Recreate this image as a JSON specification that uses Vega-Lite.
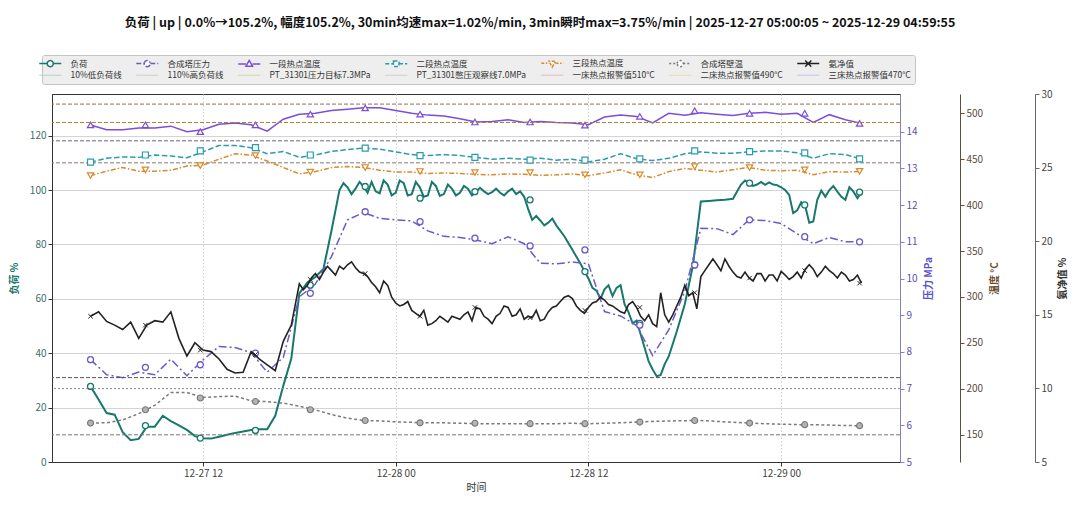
{
"$schema": "https://vega.github.io/schema/vega-lite/v6.json",
"autosize": {"type": "none"},
"padding": {"left": 52, "top": 94, "right": 180, "bottom": 47},
"width": 848,
"height": 368,
"background": "white",
"title": {"text": "负荷 | up | 0.0%→105.2%, 幅度105.2%, 30min均速max=1.02%/min, 3min瞬时max=3.75%/min | 2025-12-27 05:00:05 ~ 2025-12-29 04:59:55", "fontSize": 12.5, "fontWeight": "bold", "color": "#111", "anchor": "middle", "dx": 64, "offset": 25},
"config": {
  "font": "Noto Sans CJK SC",
  "view": {"stroke": "#333", "strokeWidth": 1},
  "axis": {"labelFontSize": 10, "titleFontSize": 10, "titleFontWeight": "bold", "tickSize": 4, "labelPadding": 2, "domainColor": "#333", "tickColor": "#333", "labelColor": "#333"},
  "axisX": {"grid": true, "gridDash": [1.5, 2], "gridColor": "#cfcfcf", "labelColor": "#444", "titleFontWeight": "normal", "titleColor": "#333", "titlePadding": 4},
  "axisY": {"grid": false},
  "line": {"invalid": "filter"}
},
"datasets": {
  "series": [
    {"t":"2025-12-27T05:00","load":27.8,"nh3":14.9,"p":7.79,"t1":487.3,"t2":446.8,"t3":432,"wall":162.7},
    {"t":"2025-12-27T05:30","load":23,"nh3":15.2},
    {"t":"2025-12-27T06:00","load":18,"nh3":14.55,"p":7.38,"t1":482,"t2":451,"t3":437,"wall":163},
    {"t":"2025-12-27T06:30","load":17.4,"nh3":14.3},
    {"t":"2025-12-27T07:00","load":11,"nh3":14.0,"p":7.3,"t1":482,"t2":452.5,"t3":441,"wall":166},
    {"t":"2025-12-27T07:30","load":8,"nh3":14.5},
    {"t":"2025-12-27T08:00","load":8.5,"nh3":13.4,"p":7.45,"t1":484,"t2":452,"t3":437,"wall":173},
    {"t":"2025-12-27T08:30","load":13,"nh3":14.3},
    {"t":"2025-12-27T09:00","load":13,"nh3":14.6,"p":7.38,"t1":484,"t2":454.5,"t3":437,"wall":182},
    {"t":"2025-12-27T09:30","load":17,"nh3":14.5},
    {"t":"2025-12-27T10:00","load":15,"nh3":15.2,"p":7.8,"t1":486,"t2":453.5,"t3":438,"wall":196},
    {"t":"2025-12-27T10:30","load":13.5,"nh3":13.4},
    {"t":"2025-12-27T11:00","load":11.8,"nh3":12.2,"p":7.35,"t1":480,"t2":451.5,"t3":442.5,"wall":196},
    {"t":"2025-12-27T11:30","load":9.5,"nh3":13.1},
    {"t":"2025-12-27T12:00","load":8.7,"nh3":12.6,"p":7.78,"t1":482,"t2":458,"t3":443.5,"wall":190.5},
    {"t":"2025-12-27T12:30","load":8.6,"nh3":12.5},
    {"t":"2025-12-27T13:00","load":9.3,"nh3":12.0,"p":8.15,"t1":488,"t2":465,"t3":450,"wall":191.5},
    {"t":"2025-12-27T13:30","load":10,"nh3":11.3},
    {"t":"2025-12-27T14:00","load":10.7,"nh3":11.05,"p":8.12,"t1":489.5,"t2":465,"t3":456,"wall":192},
    {"t":"2025-12-27T14:30","load":11.2,"nh3":11.1},
    {"t":"2025-12-27T15:00","load":11.8,"nh3":12.5,"p":7.98,"t1":487.5,"t2":462.5,"t3":454.5,"wall":187},
    {"t":"2025-12-27T15:30","load":12,"nh3":12.0},
    {"t":"2025-12-27T16:00","load":12,"nh3":11.6,"p":7.45,"t1":480.5,"t2":456,"t3":448,"wall":186},
    {"t":"2025-12-27T16:30","load":17,"nh3":11.2},
    {"t":"2025-12-27T17:00","load":28,"nh3":13.2,"p":7.85,"t1":493.5,"t2":458.5,"t3":441,"wall":184.5},
    {"t":"2025-12-27T17:30","load":38,"nh3":14.3},
    {"t":"2025-12-27T18:00","load":62,"nh3":17.1,"p":9.5,"t1":499,"t2":452,"t3":434,"wall":181},
    {"t":"2025-12-27T18:30","load":66,"nh3":17.0},
    {"t":"2025-12-27T19:00","load":68,"nh3":17.8,"p":9.85,"t1":500,"t2":454.5,"t3":436.5,"wall":177},
    {"t":"2025-12-27T19:30","load":71,"nh3":17.9},
    {"t":"2025-12-27T20:00","load":85,"nh3":18.0,"p":10.6,"t1":503,"t2":458.5,"t3":441,"wall":172},
    {"t":"2025-12-27T20:30","load":100,"nh3":18.3},
    {"t":"2025-12-27T21:00","load":101,"nh3":18.4,"p":11.6,"t1":504.5,"t2":460.5,"t3":442,"wall":168},
    {"t":"2025-12-27T21:30","load":100.5,"nh3":18.2},
    {"t":"2025-12-27T22:00","load":101.3,"nh3":17.8,"p":11.8,"t1":506,"t2":462,"t3":441,"wall":165.5},
    {"t":"2025-12-27T22:30","load":103,"nh3":17.2},
    {"t":"2025-12-27T23:00","load":98.8,"nh3":16.5,"p":11.64,"t1":506,"t2":461,"t3":438,"wall":165},
    {"t":"2025-12-27T23:30","load":102,"nh3":17.0},
    {"t":"2025-12-28T00:00","load":99,"nh3":15.8,"p":11.6,"t1":503,"t2":458,"t3":436,"wall":164},
    {"t":"2025-12-28T00:30","load":102.5,"nh3":15.7},
    {"t":"2025-12-28T01:00","load":98.5,"nh3":15.3,"p":11.57,"t1":500,"t2":455,"t3":436,"wall":163.5},
    {"t":"2025-12-28T01:30","load":101,"nh3":14.9},
    {"t":"2025-12-28T02:00","load":98,"nh3":14.3,"p":11.3,"t1":498,"t2":454,"t3":434.5,"wall":163},
    {"t":"2025-12-28T02:30","load":101.5,"nh3":14.6},
    {"t":"2025-12-28T03:00","load":98.5,"nh3":14.7,"p":11.15,"t1":497,"t2":455,"t3":435,"wall":163},
    {"t":"2025-12-28T03:30","load":100.5,"nh3":14.9},
    {"t":"2025-12-28T04:00","load":99,"nh3":14.7,"p":11.12,"t1":494,"t2":454,"t3":434.5,"wall":162.5},
    {"t":"2025-12-28T04:30","load":100.5,"nh3":15.2},
    {"t":"2025-12-28T05:00","load":99.4,"nh3":15.5,"p":11.05,"t1":490.5,"t2":452,"t3":433.5,"wall":162},
    {"t":"2025-12-28T05:30","load":99.5,"nh3":14.9},
    {"t":"2025-12-28T06:00","load":99.2,"nh3":14.4,"p":10.95,"t1":491,"t2":450,"t3":433,"wall":162},
    {"t":"2025-12-28T06:30","load":99,"nh3":15.1},
    {"t":"2025-12-28T07:00","load":99.5,"nh3":15.5,"p":11.14,"t1":493,"t2":451,"t3":434,"wall":162},
    {"t":"2025-12-28T07:30","load":98.5,"nh3":15.0},
    {"t":"2025-12-28T08:00","load":97.5,"nh3":14.7,"p":10.95,"t1":490,"t2":450,"t3":433.5,"wall":162},
    {"t":"2025-12-28T08:30","load":89,"nh3":14.8},
    {"t":"2025-12-28T09:00","load":88.8,"nh3":14.6,"p":10.42,"t1":491,"t2":451,"t3":432.5,"wall":162},
    {"t":"2025-12-28T09:30","load":88,"nh3":15.2},
    {"t":"2025-12-28T10:00","load":87,"nh3":15.6,"p":10.4,"t1":490,"t2":449,"t3":433,"wall":162},
    {"t":"2025-12-28T10:30","load":83,"nh3":16.2},
    {"t":"2025-12-28T11:00","load":78,"nh3":16.1,"p":10.45,"t1":489.5,"t2":450,"t3":434,"wall":162.5},
    {"t":"2025-12-28T11:30","load":73,"nh3":15.3},
    {"t":"2025-12-28T12:00","load":67.5,"nh3":15.5,"p":10.4,"t1":487.5,"t2":447,"t3":432,"wall":162},
    {"t":"2025-12-28T12:30","load":63,"nh3":15.9},
    {"t":"2025-12-28T13:00","load":63.5,"nh3":16.0,"p":9.1,"t1":496,"t2":450,"t3":435,"wall":162.5},
    {"t":"2025-12-28T13:30","load":61,"nh3":15.6},
    {"t":"2025-12-28T14:00","load":65,"nh3":15.2,"p":8.98,"t1":498,"t2":456,"t3":438.5,"wall":163},
    {"t":"2025-12-28T14:30","load":55,"nh3":15.7},
    {"t":"2025-12-28T15:00","load":52,"nh3":15.5,"p":8.72,"t1":496.5,"t2":450.5,"t3":433,"wall":163.8},
    {"t":"2025-12-28T15:30","load":42,"nh3":14.6},
    {"t":"2025-12-28T16:00","load":34,"nh3":14.4,"p":7.9,"t1":489.5,"t2":448.5,"t3":430,"wall":164.5},
    {"t":"2025-12-28T16:30","load":32,"nh3":16.5},
    {"t":"2025-12-28T17:00","load":38.8,"nh3":14.5,"p":8.6,"t1":500,"t2":451,"t3":436.5,"wall":165},
    {"t":"2025-12-28T17:30","load":48,"nh3":15.6},
    {"t":"2025-12-28T18:00","load":58,"nh3":17.0,"p":9.65,"t1":498,"t2":456,"t3":440,"wall":165.3},
    {"t":"2025-12-28T18:30","load":72,"nh3":16.5},
    {"t":"2025-12-28T19:00","load":95.8,"nh3":17.6,"p":11.37,"t1":500.5,"t2":458,"t3":438,"wall":165.5},
    {"t":"2025-12-28T19:30","load":96,"nh3":18.4},
    {"t":"2025-12-28T20:00","load":96.2,"nh3":18.4,"p":11.36,"t1":499,"t2":456.5,"t3":436,"wall":164.5},
    {"t":"2025-12-28T20:30","load":96.4,"nh3":18.8},
    {"t":"2025-12-28T21:00","load":96.8,"nh3":17.9,"p":11.2,"t1":497.5,"t2":456.5,"t3":438.5,"wall":163.5},
    {"t":"2025-12-28T21:30","load":102,"nh3":17.5},
    {"t":"2025-12-28T22:00","load":102.5,"nh3":17.5,"p":11.6,"t1":500,"t2":458,"t3":441,"wall":162.7},
    {"t":"2025-12-28T22:30","load":102,"nh3":17.8},
    {"t":"2025-12-28T23:00","load":101.9,"nh3":17.3,"p":11.58,"t1":501,"t2":459,"t3":438,"wall":162},
    {"t":"2025-12-28T23:30","load":102,"nh3":17.7},
    {"t":"2025-12-29T00:00","load":101,"nh3":17.95,"p":11.5,"t1":499,"t2":459,"t3":437.5,"wall":161.5},
    {"t":"2025-12-29T00:30","load":98.2,"nh3":17.4},
    {"t":"2025-12-29T01:00","load":92.5,"nh3":17.9,"p":11.22,"t1":500,"t2":457,"t3":438,"wall":161},
    {"t":"2025-12-29T01:30","load":94,"nh3":18.1},
    {"t":"2025-12-29T02:00","load":88.4,"nh3":18.1,"p":10.95,"t1":490,"t2":451,"t3":433,"wall":160.9},
    {"t":"2025-12-29T02:30","load":99.8,"nh3":17.9},
    {"t":"2025-12-29T03:00","load":100,"nh3":18.0,"p":11.12,"t1":498.5,"t2":456,"t3":436.5,"wall":160.5},
    {"t":"2025-12-29T03:30","load":99.4,"nh3":17.5},
    {"t":"2025-12-29T04:00","load":96.4,"nh3":17.7,"p":11.0,"t1":493,"t2":455,"t3":436,"wall":160},
    {"t":"2025-12-29T04:30","load":99.4,"nh3":17.4},
    {"t":"2025-12-29T05:00","load":99.1,"nh3":17.15,"p":11.0,"t1":489,"t2":450,"t3":436.8,"wall":159.8},
    {"t":"2025-12-27T18:15","nh3":16.7},
    {"t":"2025-12-27T18:45","nh3":17.5},
    {"t":"2025-12-27T19:15","nh3":17.4},
    {"t":"2025-12-27T19:45","nh3":18.3},
    {"t":"2025-12-27T20:15","nh3":17.7},
    {"t":"2025-12-27T20:45","nh3":18.1,"load":102.5},
    {"t":"2025-12-27T21:15","nh3":18.6,"load":98.5},
    {"t":"2025-12-27T21:45","nh3":17.9,"load":103},
    {"t":"2025-12-27T22:15","nh3":17.6,"load":99},
    {"t":"2025-12-27T22:45","nh3":16.9,"load":99.5},
    {"t":"2025-12-27T23:15","nh3":17.3,"load":103.5},
    {"t":"2025-12-27T23:45","nh3":16.2,"load":98},
    {"t":"2025-12-28T00:15","nh3":15.6,"load":103.5},
    {"t":"2025-12-28T00:45","nh3":15.9,"load":98},
    {"t":"2025-12-28T01:15","nh3":15.1,"load":103},
    {"t":"2025-12-28T01:45","nh3":15.3,"load":97.5},
    {"t":"2025-12-28T02:15","nh3":14.4,"load":103},
    {"t":"2025-12-28T02:45","nh3":14.9,"load":97.8},
    {"t":"2025-12-28T03:15","nh3":14.5,"load":102},
    {"t":"2025-12-28T03:45","nh3":14.8,"load":98},
    {"t":"2025-12-28T04:15","nh3":15.0,"load":101.5},
    {"t":"2025-12-28T04:45","nh3":14.6,"load":98},
    {"t":"2025-12-28T05:15","nh3":15.4,"load":100.8},
    {"t":"2025-12-28T05:45","nh3":14.7,"load":98.5},
    {"t":"2025-12-28T06:15","nh3":14.9,"load":100.5},
    {"t":"2025-12-28T06:45","nh3":15.6,"load":98},
    {"t":"2025-12-28T07:15","nh3":14.9,"load":100.5},
    {"t":"2025-12-28T07:45","nh3":15.4,"load":99.5},
    {"t":"2025-12-28T08:15","nh3":14.9,"load":93},
    {"t":"2025-12-28T08:45","nh3":15.3,"load":90.5},
    {"t":"2025-12-28T09:15","nh3":14.7,"load":87},
    {"t":"2025-12-28T09:45","nh3":15.5,"load":89.5},
    {"t":"2025-12-28T10:15","nh3":15.9},
    {"t":"2025-12-28T10:45","nh3":16.3},
    {"t":"2025-12-28T11:15","nh3":15.6},
    {"t":"2025-12-28T11:45","nh3":15.1},
    {"t":"2025-12-28T12:15","nh3":15.8,"load":64},
    {"t":"2025-12-28T12:45","nh3":16.2,"load":60},
    {"t":"2025-12-28T13:15","nh3":15.7,"load":65},
    {"t":"2025-12-28T13:45","nh3":15.4,"load":64},
    {"t":"2025-12-28T14:15","nh3":15.1,"load":58},
    {"t":"2025-12-28T14:45","nh3":15.9,"load":51},
    {"t":"2025-12-28T15:15","nh3":14.9,"load":47},
    {"t":"2025-12-28T15:45","nh3":15.0,"load":37},
    {"t":"2025-12-28T16:15","nh3":14.2,"load":31.5},
    {"t":"2025-12-28T16:45","nh3":15.0,"load":36},
    {"t":"2025-12-28T17:15","nh3":15.0},
    {"t":"2025-12-28T17:45","nh3":16.2},
    {"t":"2025-12-28T18:15","nh3":16.3},
    {"t":"2025-12-28T18:45","nh3":15.4},
    {"t":"2025-12-28T19:15","nh3":18.0},
    {"t":"2025-12-28T19:45","nh3":18.8},
    {"t":"2025-12-28T20:15","nh3":18.0},
    {"t":"2025-12-28T20:45","nh3":18.3},
    {"t":"2025-12-28T21:15","nh3":17.6},
    {"t":"2025-12-28T21:45","nh3":17.9,"load":103.5},
    {"t":"2025-12-28T22:15","nh3":17.3,"load":101.5},
    {"t":"2025-12-28T22:45","nh3":17.8,"load":103},
    {"t":"2025-12-28T23:15","nh3":17.7,"load":102.8},
    {"t":"2025-12-28T23:45","nh3":17.3,"load":101.8},
    {"t":"2025-12-29T00:15","nh3":17.7,"load":100},
    {"t":"2025-12-29T00:45","nh3":17.6,"load":91.5},
    {"t":"2025-12-29T01:15","nh3":17.5,"load":95.5},
    {"t":"2025-12-29T01:45","nh3":18.4,"load":88},
    {"t":"2025-12-29T02:15","nh3":17.6,"load":96.4},
    {"t":"2025-12-29T02:45","nh3":18.3,"load":97.5},
    {"t":"2025-12-29T03:15","nh3":17.8,"load":101.5},
    {"t":"2025-12-29T03:45","nh3":17.9,"load":97.5},
    {"t":"2025-12-29T04:15","nh3":17.3,"load":101},
    {"t":"2025-12-29T04:45","nh3":17.7,"load":97}
  ],
  "marks": [
    {"t":"2025-12-27T05:00","load":27.8,"p":7.79,"t1":487.3,"t2":446.8,"t3":432.2,"wall":162.7,"nh3":14.9},
    {"t":"2025-12-27T08:25","load":13.4,"p":7.58,"t1":487.3,"t2":454.6,"t3":438.4,"wall":177.2,"nh3":14.3},
    {"t":"2025-12-27T11:50","load":8.8,"p":7.65,"t1":480,"t2":459,"t3":443,"wall":190,"nh3":12.6},
    {"t":"2025-12-27T15:16","load":11.6,"p":7.97,"t1":487.3,"t2":462.6,"t3":454,"wall":186.2,"nh3":12.3},
    {"t":"2025-12-27T18:41","load":65,"p":9.6,"t1":499,"t2":454.6,"t3":436,"wall":177.2,"nh3":17.4},
    {"t":"2025-12-27T22:06","load":101.3,"p":11.82,"t1":505.8,"t2":462,"t3":441,"wall":165.5,"nh3":17.8},
    {"t":"2025-12-28T01:31","load":97,"p":11.55,"t1":499,"t2":454,"t3":436.6,"wall":163,"nh3":14.9},
    {"t":"2025-12-28T04:56","load":99.4,"p":11.1,"t1":490.5,"t2":452,"t3":435.5,"wall":162.5,"nh3":15.5},
    {"t":"2025-12-28T08:22","load":96.4,"p":10.89,"t1":490.5,"t2":449,"t3":435.5,"wall":162,"nh3":14.8},
    {"t":"2025-12-28T11:47","load":70,"p":10.78,"t1":487,"t2":449,"t3":433,"wall":162,"nh3":15.3},
    {"t":"2025-12-28T15:12","load":51,"p":8.73,"t1":496.7,"t2":450.3,"t3":433,"wall":163.8,"nh3":15.5},
    {"t":"2025-12-28T18:37","load":72.5,"p":10.37,"t1":502.8,"t2":459,"t3":442,"wall":165.5,"nh3":16.5},
    {"t":"2025-12-28T22:02","load":102.5,"p":11.6,"t1":500,"t2":458.3,"t3":440.9,"wall":162.7,"nh3":17.5},
    {"t":"2025-12-29T01:28","load":94.5,"p":11.14,"t1":500,"t2":457,"t3":438.4,"wall":160.9,"nh3":18.0},
    {"t":"2025-12-29T04:53","load":99.2,"p":11.0,"t1":489,"t2":450.3,"t3":436.8,"wall":159.8,"nh3":17.15}
  ]
},
"layer": [
  {"layer": [
    {"data": {"name": "series"}, "transform": [{"filter": "isValid(datum.load)"}],
     "mark": {"type": "line", "strokeWidth": 2},
     "encoding": {
       "x": {"field": "t", "type": "temporal", "title": "时间", "scale": {"domain": [{"year": 2025, "month": 12, "date": 27, "hours": 2, "minutes": 36}, {"year": 2025, "month": 12, "date": 29, "hours": 7, "minutes": 24}]}, "axis": {"format": "%m-%d %H", "values": [{"year": 2025, "month": 12, "date": 27, "hours": 12}, {"year": 2025, "month": 12, "date": 28, "hours": 0}, {"year": 2025, "month": 12, "date": 28, "hours": 12}, {"year": 2025, "month": 12, "date": 29, "hours": 0}]}},
       "y": {"field": "load", "type": "quantitative", "title": "负荷 %", "scale": {"domain": [0, 135.3], "nice": false, "zero": false},
             "axis": {"values": [0, 20, 40, 60, 80, 100, 120], "grid": true, "gridColor": "#d4d4d4", "labelColor": "#3a6f67", "titleColor": "#17786c", "titleAngle": 270, "titleX": -38, "titleY": 184, "titleAlign": "center", "titleBaseline": "middle"}},
       "color": {"datum": "负荷", "type": "nominal",
         "scale": {"domain": ["负荷", "合成塔压力", "一段热点温度", "二段热点温度", "三段热点温度", "合成塔壁温", "氨净值", "10%低负荷线", "110%高负荷线", "PT_31301压力目标7.3MPa", "PT_31301憋压观察线7.0MPa", "一床热点报警值510°C", "二床热点报警值490°C", "三床热点报警值470°C"],
                   "range": ["#17786c", "#6a5acd", "#7c4ddb", "#2a9cb0", "#d98a2b", "#7a7a7a", "#222222", "#a8cfc8", "#c8c8c8", "#cdd3a0", "#c8c8c8", "#eab0c0", "#e8dc9c", "#c4bcec"]},
         "legend": {"title": null, "orient": "none", "legendX": -10, "legendY": -39, "columns": 7, "direction": "horizontal", "fillColor": "#eeeeee", "strokeColor": "#c4c4c4", "padding": 4, "cornerRadius": 2, "rowPadding": 1, "columnPadding": 11, "labelFontSize": 8.5, "labelColor": "#333", "labelOffset": 16, "labelLimit": 220, "symbolSize": 121, "symbolStrokeWidth": 1.5,
           "encode": {"symbols": {"update": {
             "shape": {"signal": "({'负荷':'M-2,0L-0.55,0M0.55,0L2,0M-0.55,0A0.55,0.55 0 1,1 0.55,0A0.55,0.55 0 1,1 -0.55,0Z','合成塔压力':'M-2,0L-0.55,0M0.55,0L2,0M-0.55,0A0.55,0.55 0 1,1 0.55,0A0.55,0.55 0 1,1 -0.55,0Z','一段热点温度':'M-2,0L-0.6,0M0.6,0L2,0M0,-0.65L0.6,0.4L-0.6,0.4Z','二段热点温度':'M-2,0L-0.5,0M0.5,0L2,0M-0.5,-0.5L0.5,-0.5L0.5,0.5L-0.5,0.5Z','三段热点温度':'M-2,0L-0.6,0M0.6,0L2,0M0,0.65L0.6,-0.4L-0.6,-0.4Z','合成塔壁温':'M-2,0L-0.55,0M0.55,0L2,0M-0.55,0A0.55,0.55 0 1,1 0.55,0A0.55,0.55 0 1,1 -0.55,0Z','氨净值':'M-2,0L2,0M-0.55,-0.55L0.55,0.55M-0.55,0.55L0.55,-0.55'})[datum.value] || 'M-2,0L2,0'"},
             "strokeDash": {"signal": "({'合成塔压力':[5,2,1.5,2],'二段热点温度':[4,2],'三段热点温度':[3,1.5,1.5,1.5],'合成塔壁温':[2,2]})[datum.value] || [1,0]"},
             "fill": {"value": "white"},
             "strokeWidth": {"signal": "indexof(['负荷','合成塔压力','一段热点温度','二段热点温度','三段热点温度','合成塔壁温','氨净值'], datum.value) >= 0 ? 1.5 : 1"}
           }}}}}
     }},
    {"data": {"name": "marks"},
     "mark": {"type": "point", "shape": "circle", "size": 36, "filled": true, "fill": "white", "stroke": "#17786c", "strokeWidth": 1.3, "opacity": 1},
     "encoding": {
       "x": {"field": "t", "type": "temporal", "title": "时间", "scale": {"domain": [{"year": 2025, "month": 12, "date": 27, "hours": 2, "minutes": 36}, {"year": 2025, "month": 12, "date": 29, "hours": 7, "minutes": 24}]}},
       "y": {"field": "load", "type": "quantitative", "title": "负荷 %"}}},
    {"data": {"values": [{}]}, "mark": {"type": "rule", "stroke": "#777777", "strokeDash": [4, 2], "strokeWidth": 1}, "encoding": {"y": {"datum": 10}}},
    {"data": {"values": [{}]}, "mark": {"type": "rule", "stroke": "#8a7a70", "strokeDash": [4, 2], "strokeWidth": 1}, "encoding": {"y": {"datum": 110}}}
  ]},
  {"layer": [
    {"data": {"name": "series"}, "transform": [{"filter": "isValid(datum.p)"}],
     "mark": {"type": "line", "strokeWidth": 1.5, "strokeDash": [8, 3, 2, 3]},
     "encoding": {
       "x": {"field": "t", "type": "temporal", "title": "时间", "scale": {"domain": [{"year": 2025, "month": 12, "date": 27, "hours": 2, "minutes": 36}, {"year": 2025, "month": 12, "date": 29, "hours": 7, "minutes": 24}]}},
       "y": {"field": "p", "type": "quantitative", "title": "压力 MPa", "scale": {"domain": [5, 15.03], "nice": false, "zero": false},
             "axis": {"orient": "right", "offset": 0, "values": [5, 6, 7, 8, 9, 10, 11, 12, 13, 14], "domainColor": "#8580c0", "tickColor": "#8580c0", "labelColor": "#5a50b0", "titleColor": "#5a4fcf", "titleAngle": 270, "titleX": 28, "titleY": 184, "titleAlign": "center", "titleBaseline": "middle"}},
       "color": {"datum": "合成塔压力", "type": "nominal"}}},
    {"data": {"name": "marks"},
     "mark": {"type": "point", "shape": "circle", "size": 36, "filled": true, "fill": "white", "stroke": "#6a5acd", "strokeWidth": 1.3, "opacity": 1},
     "encoding": {
       "x": {"field": "t", "type": "temporal", "title": "时间", "scale": {"domain": [{"year": 2025, "month": 12, "date": 27, "hours": 2, "minutes": 36}, {"year": 2025, "month": 12, "date": 29, "hours": 7, "minutes": 24}]}},
       "y": {"field": "p", "type": "quantitative", "title": "压力 MPa"}}},
    {"data": {"values": [{}]}, "mark": {"type": "rule", "stroke": "#555555", "strokeDash": [4, 2], "strokeWidth": 1}, "encoding": {"y": {"datum": 7.3}}},
    {"data": {"values": [{}]}, "mark": {"type": "rule", "stroke": "#888888", "strokeDash": [2, 2], "strokeWidth": 1}, "encoding": {"y": {"datum": 7.0}}}
  ]},
  {"layer": [
    {"data": {"name": "series"}, "transform": [{"filter": "isValid(datum.t1)"}],
     "mark": {"type": "line", "strokeWidth": 1.5},
     "encoding": {
       "x": {"field": "t", "type": "temporal", "title": "时间", "scale": {"domain": [{"year": 2025, "month": 12, "date": 27, "hours": 2, "minutes": 36}, {"year": 2025, "month": 12, "date": 29, "hours": 7, "minutes": 24}]}},
       "y": {"field": "t1", "type": "quantitative", "title": "温度 °C", "scale": {"domain": [120.3, 521], "nice": false, "zero": false},
             "axis": {"orient": "right", "offset": 60, "values": [150, 200, 250, 300, 350, 400, 450, 500], "domainColor": "#5e4e40", "tickColor": "#5e4e40", "labelColor": "#5b4b3b", "titleColor": "#6b4f2f", "titleAngle": 270, "titleX": 34, "titleY": 184, "titleAlign": "center", "titleBaseline": "middle"}},
       "color": {"datum": "一段热点温度", "type": "nominal"}}},
    {"data": {"name": "series"}, "transform": [{"filter": "isValid(datum.t2)"}],
     "mark": {"type": "line", "strokeWidth": 1.5, "strokeDash": [5.5, 2.5]},
     "encoding": {
       "x": {"field": "t", "type": "temporal", "title": "时间", "scale": {"domain": [{"year": 2025, "month": 12, "date": 27, "hours": 2, "minutes": 36}, {"year": 2025, "month": 12, "date": 29, "hours": 7, "minutes": 24}]}},
       "y": {"field": "t2", "type": "quantitative", "title": "温度 °C"},
       "color": {"datum": "二段热点温度", "type": "nominal"}}},
    {"data": {"name": "series"}, "transform": [{"filter": "isValid(datum.t3)"}],
     "mark": {"type": "line", "strokeWidth": 1.5, "strokeDash": [5, 2, 1.5, 2]},
     "encoding": {
       "x": {"field": "t", "type": "temporal", "title": "时间", "scale": {"domain": [{"year": 2025, "month": 12, "date": 27, "hours": 2, "minutes": 36}, {"year": 2025, "month": 12, "date": 29, "hours": 7, "minutes": 24}]}},
       "y": {"field": "t3", "type": "quantitative", "title": "温度 °C"},
       "color": {"datum": "三段热点温度", "type": "nominal"}}},
    {"data": {"name": "series"}, "transform": [{"filter": "isValid(datum.wall)"}],
     "mark": {"type": "line", "strokeWidth": 1.5, "strokeDash": [3, 2.5]},
     "encoding": {
       "x": {"field": "t", "type": "temporal", "title": "时间", "scale": {"domain": [{"year": 2025, "month": 12, "date": 27, "hours": 2, "minutes": 36}, {"year": 2025, "month": 12, "date": 29, "hours": 7, "minutes": 24}]}},
       "y": {"field": "wall", "type": "quantitative", "title": "温度 °C"},
       "color": {"datum": "合成塔壁温", "type": "nominal"}}},
    {"data": {"name": "marks"},
     "mark": {"type": "point", "shape": "triangle-up", "size": 40, "filled": true, "fill": "white", "stroke": "#7c4ddb", "strokeWidth": 1.2, "opacity": 1},
     "encoding": {
       "x": {"field": "t", "type": "temporal", "title": "时间", "scale": {"domain": [{"year": 2025, "month": 12, "date": 27, "hours": 2, "minutes": 36}, {"year": 2025, "month": 12, "date": 29, "hours": 7, "minutes": 24}]}},
       "y": {"field": "t1", "type": "quantitative", "title": "温度 °C"}}},
    {"data": {"name": "marks"},
     "mark": {"type": "point", "shape": "square", "size": 36, "filled": true, "fill": "white", "stroke": "#2a9cb0", "strokeWidth": 1.2, "opacity": 1},
     "encoding": {
       "x": {"field": "t", "type": "temporal", "title": "时间", "scale": {"domain": [{"year": 2025, "month": 12, "date": 27, "hours": 2, "minutes": 36}, {"year": 2025, "month": 12, "date": 29, "hours": 7, "minutes": 24}]}},
       "y": {"field": "t2", "type": "quantitative", "title": "温度 °C"}}},
    {"data": {"name": "marks"},
     "mark": {"type": "point", "shape": "triangle-down", "size": 40, "filled": true, "fill": "white", "stroke": "#d98a2b", "strokeWidth": 1.2, "opacity": 1},
     "encoding": {
       "x": {"field": "t", "type": "temporal", "title": "时间", "scale": {"domain": [{"year": 2025, "month": 12, "date": 27, "hours": 2, "minutes": 36}, {"year": 2025, "month": 12, "date": 29, "hours": 7, "minutes": 24}]}},
       "y": {"field": "t3", "type": "quantitative", "title": "温度 °C"}}},
    {"data": {"name": "marks"},
     "mark": {"type": "point", "shape": "circle", "size": 36, "filled": true, "fill": "#b4b4b4", "stroke": "#7a7a7a", "strokeWidth": 1.2, "opacity": 1},
     "encoding": {
       "x": {"field": "t", "type": "temporal", "title": "时间", "scale": {"domain": [{"year": 2025, "month": 12, "date": 27, "hours": 2, "minutes": 36}, {"year": 2025, "month": 12, "date": 29, "hours": 7, "minutes": 24}]}},
       "y": {"field": "wall", "type": "quantitative", "title": "温度 °C"}}},
    {"data": {"values": [{}]}, "mark": {"type": "rule", "stroke": "#9b6a5a", "strokeDash": [4, 2], "strokeWidth": 1}, "encoding": {"y": {"datum": 510}}},
    {"data": {"values": [{}]}, "mark": {"type": "rule", "stroke": "#b08030", "strokeDash": [4, 2], "strokeWidth": 1}, "encoding": {"y": {"datum": 490}}},
    {"data": {"values": [{}]}, "mark": {"type": "rule", "stroke": "#6a6080", "strokeDash": [4, 2], "strokeWidth": 1}, "encoding": {"y": {"datum": 470}}}
  ]},
  {"layer": [
    {"data": {"name": "series"}, "transform": [{"filter": "isValid(datum.nh3)"}],
     "mark": {"type": "line", "strokeWidth": 1.6},
     "encoding": {
       "x": {"field": "t", "type": "temporal", "title": "时间", "scale": {"domain": [{"year": 2025, "month": 12, "date": 27, "hours": 2, "minutes": 36}, {"year": 2025, "month": 12, "date": 29, "hours": 7, "minutes": 24}]}},
       "y": {"field": "nh3", "type": "quantitative", "title": "氨净值 %", "scale": {"domain": [5, 30], "nice": false, "zero": false},
             "axis": {"orient": "right", "offset": 135, "values": [5, 10, 15, 20, 25, 30], "domainColor": "#666666", "tickColor": "#666666", "labelColor": "#444444", "titleColor": "#333333", "titleAngle": 270, "titleX": 27, "titleY": 184, "titleAlign": "center", "titleBaseline": "middle"}},
       "color": {"datum": "氨净值", "type": "nominal"}}},
    {"data": {"name": "marks"},
     "mark": {"type": "point", "shape": "M-1,-1L1,1M-1,1L1,-1", "size": 20, "filled": false, "stroke": "#222222", "strokeWidth": 1, "opacity": 1},
     "encoding": {
       "x": {"field": "t", "type": "temporal", "title": "时间", "scale": {"domain": [{"year": 2025, "month": 12, "date": 27, "hours": 2, "minutes": 36}, {"year": 2025, "month": 12, "date": 29, "hours": 7, "minutes": 24}]}},
       "y": {"field": "nh3", "type": "quantitative", "title": "氨净值 %"}}}
  ]}
],
"resolve": {"scale": {"y": "independent", "color": "shared"}}
}
